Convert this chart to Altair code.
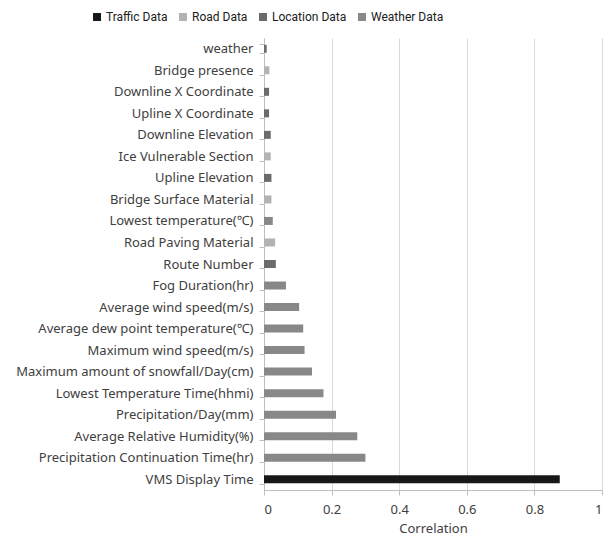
import altair as alt
import pandas as pd

features = [
    "weather", "Bridge presence", "Downline X Coordinate", "Upline X Coordinate",
    "Downline Elevation", "Ice Vulnerable Section", "Upline Elevation",
    "Bridge Surface Material", "Lowest temperature(℃)", "Road Paving Material",
    "Route Number", "Fog Duration(hr)", "Average wind speed(m/s)",
    "Average dew point temperature(℃)", "Maximum wind speed(m/s)",
    "Maximum amount of snowfall/Day(cm)", "Lowest Temperature Time(hhmi)",
    "Precipitation/Day(mm)", "Average Relative Humidity(%)",
    "Precipitation Continuation Time(hr)", "VMS Display Time",
]
correlation = [
    0.008, 0.016, 0.015, 0.015, 0.020, 0.020, 0.022, 0.022, 0.026, 0.033,
    0.035, 0.065, 0.104, 0.116, 0.120, 0.142, 0.176, 0.213, 0.276, 0.300, 0.875,
]
groups = [
    "Location Data", "Road Data", "Location Data", "Location Data",
    "Location Data", "Road Data", "Location Data", "Road Data",
    "Weather Data", "Road Data", "Location Data", "Weather Data",
    "Weather Data", "Weather Data", "Weather Data", "Weather Data",
    "Weather Data", "Weather Data", "Weather Data", "Weather Data",
    "Traffic Data",
]
group_order = ["Traffic Data", "Road Data", "Location Data", "Weather Data"]
group_colors = ["#171717", "#b3b3b3", "#6b6b6b", "#888888"]
x_ticks = [0, 0.2, 0.4, 0.6, 0.8, 1]

df = pd.DataFrame({"feature": features, "corr": correlation, "group": groups})

FONT = "Noto Sans"
LEGEND_FONT = "Roboto"

chart = alt.Chart(df).mark_bar(size=8).encode(
    y=alt.Y("feature:N", sort=features, title=None,
            scale=alt.Scale(paddingInner=0.6, paddingOuter=0.3),
            axis=alt.Axis(tickBand="extent", tickSize=5, labelPadding=6,
                          domainColor="#bfbfbf", tickColor="#bfbfbf",
                          labelColor="#404040", labelFontSize=13, labelFont=FONT,
                          grid=False, labelLimit=300)),
    x=alt.X("corr:Q", title="Correlation",
            scale=alt.Scale(domain=[0, 1], nice=False),
            axis=alt.Axis(values=x_ticks, format="~g", tickSize=5,
                          domainColor="#bfbfbf", tickColor="#bfbfbf",
                          gridColor="#d9d9d9", labelColor="#404040",
                          labelFontSize=13, labelFont=FONT, labelPadding=8,
                          titleFont=FONT, titleFontSize=13, titleColor="#404040",
                          titleFontWeight="normal", titlePadding=6)),
    color=alt.Color("group:N", scale=alt.Scale(domain=group_order, range=group_colors),
                    legend=alt.Legend(title=None, orient="none", direction="horizontal",
                                      legendX=-173, legendY=-27,
                                      symbolType="square", symbolSize=64,
                                      symbolStrokeWidth=0,
                                      labelFont=LEGEND_FONT, labelFontSize=12,
                                      labelColor="#202020", columnPadding=9,
                                      labelOffset=3)),
).properties(
    width=338, height=452,
    autosize=alt.AutoSizeParams(type="none"),
    padding={"left": 256, "top": 30, "right": 3, "bottom": 46},
).configure_view(stroke=None)

chart.save("out.html", embed_options={"renderer": "svg", "actions": False})
